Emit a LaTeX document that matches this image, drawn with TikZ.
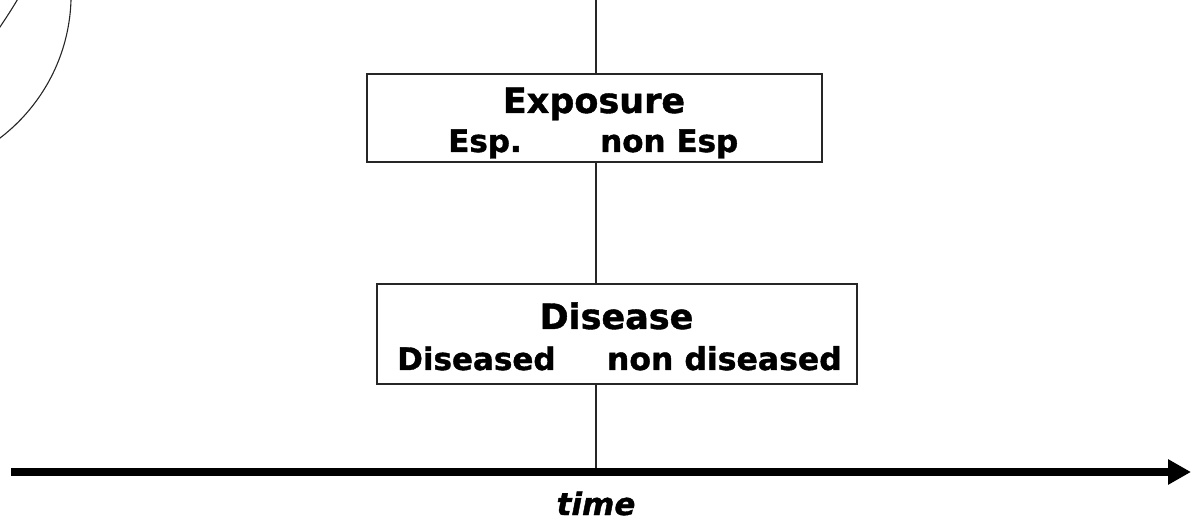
\documentclass[tikz,border=0pt]{standalone}
\usepackage{fontspec}
\setmainfont{DejaVu Sans}[BoldFeatures={FakeBold=1.2},BoldItalicFeatures={FakeBold=1.2}]
\usetikzlibrary{arrows.meta}
\begin{document}
\begin{tikzpicture}[x=1pt,y=-1pt,
  box/.style={draw=black!85, line width=1.7pt, fill=white, inner sep=0pt, outer sep=0pt},
  titletext/.style={font=\fontsize{35}{40}\selectfont\bfseries, inner sep=0pt, anchor=base},
  subtext/.style={font=\fontsize{31}{36}\selectfont\bfseries, inner sep=0pt},
  thinline/.style={draw=black!85, line width=1.2pt},
  arcline/.style={draw=black!85, line width=1.1pt}]
\useasboundingbox (0,0) rectangle (1192,526);
% arcs at top left
\begin{scope}
\clip (0,0) rectangle (1192,526);
\draw[arcline] (-109.4,-5.56) circle[radius=180.5pt];
\draw[arcline] (19,-3) .. controls (12,9) and (6,18) .. (-2,30);
\end{scope}
% coordinates
\coordinate (top) at (596,0);
\coordinate (foot) at (596,472);
\coordinate (axisL) at (11,472);
\coordinate (axisR) at (1191,472);
% vertical line
\draw[thinline] (top) -- (foot);
% boxes
\node[box, minimum width=455pt, minimum height=88pt] (expo) at (594.5,118) {};
\node[box, minimum width=480pt, minimum height=100pt] (dis) at (617,334) {};
% texts
\node[titletext] (expoT) at (594,113) {Exposure};
\node[subtext, anchor=base west] (esp) at (448,152) {Esp.};
\node[subtext, anchor=base west] (nonesp) at (600,152) {non Esp};
\node[titletext] (disT) at (616.5,329) {Disease};
\node[subtext, anchor=base west] (dised) at (397,370) {Diseased};
\node[subtext, font=\fontsize{31.5}{36}\selectfont\bfseries, anchor=base east] (nondis) at (842,370) {non diseased};
% time axis
\draw[line width=7.5pt, -{Triangle[length=23pt,width=24pt]}] (axisL) -- (axisR);
\node[subtext, font=\fontsize{31}{36}\selectfont\bfseries\itshape, anchor=base] (time) at (596,515) {time};
\end{tikzpicture}
\end{document}
